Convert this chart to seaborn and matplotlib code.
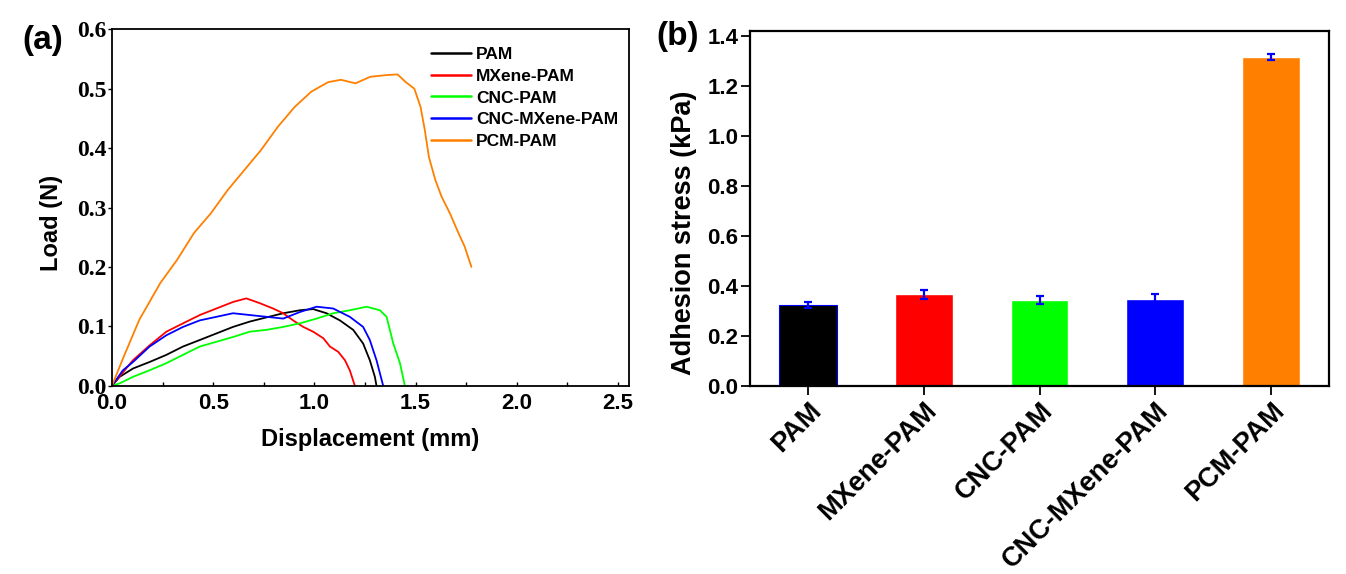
import matplotlib
matplotlib.use("Agg")
from matplotlib import pyplot as plt
from matplotlib import ticker
import numpy as np
import pandas as pd
import seaborn as sns

# (a) load-displacement curves
pam_x = [0.0, 0.038, 0.104, 0.186, 0.269, 0.351, 0.434, 0.516, 0.598, 0.681, 0.763,
         0.846, 0.928, 0.994, 1.06, 1.126, 1.192, 1.241, 1.274, 1.299, 1.307]
pam_y = [0.0, 0.015, 0.029, 0.040, 0.052, 0.066, 0.077, 0.088, 0.099, 0.108, 0.115,
         0.122, 0.127, 0.129, 0.122, 0.110, 0.094, 0.071, 0.043, 0.015, 0.0]

mxene_x = [0.0, 0.104, 0.186, 0.269, 0.351, 0.434, 0.516, 0.598, 0.664, 0.730, 0.796,
           0.846, 0.895, 0.945, 0.994, 1.044, 1.077, 1.118, 1.151, 1.175, 1.2]
mxene_y = [0.0, 0.043, 0.068, 0.091, 0.105, 0.119, 0.130, 0.141, 0.147, 0.139, 0.130,
           0.122, 0.110, 0.099, 0.091, 0.080, 0.066, 0.057, 0.043, 0.026, 0.0]

cnc_x = [0.0, 0.038, 0.104, 0.186, 0.269, 0.351, 0.434, 0.516, 0.598, 0.681, 0.763,
         0.846, 0.928, 1.011, 1.093, 1.175, 1.258, 1.324, 1.357, 1.39, 1.423, 1.447]
cnc_y = [0.0, 0.004, 0.015, 0.026, 0.038, 0.052, 0.066, 0.074, 0.082, 0.091, 0.094,
         0.099, 0.105, 0.113, 0.122, 0.127, 0.133, 0.127, 0.116, 0.071, 0.038, 0.0]

cm_x = [0.0, 0.054, 0.104, 0.186, 0.269, 0.351, 0.434, 0.516, 0.598, 0.681, 0.763,
        0.846, 0.928, 1.011, 1.093, 1.175, 1.241, 1.274, 1.307, 1.34]
cm_y = [0.0, 0.026, 0.040, 0.066, 0.085, 0.099, 0.110, 0.116, 0.122, 0.119, 0.116,
        0.113, 0.124, 0.133, 0.130, 0.116, 0.099, 0.077, 0.043, 0.0]

pcm_x = [0.0, 0.052, 0.135, 0.239, 0.322, 0.405, 0.488, 0.571, 0.654, 0.737, 0.820,
         0.902, 0.985, 1.068, 1.131, 1.203, 1.276, 1.359, 1.411, 1.452, 1.494, 1.525,
         1.546, 1.566, 1.598, 1.629, 1.670, 1.712, 1.743, 1.776]
pcm_y = [0.0, 0.044, 0.111, 0.173, 0.212, 0.257, 0.290, 0.329, 0.363, 0.397, 0.436,
         0.469, 0.495, 0.511, 0.515, 0.509, 0.520, 0.523, 0.524, 0.511, 0.500, 0.469,
         0.430, 0.385, 0.346, 0.318, 0.290, 0.257, 0.234, 0.200]

# (b) adhesion stress
samples = ["PAM", "MXene-PAM", "CNC-PAM", "CNC-MXene-PAM", "PCM-PAM"]
stress = [0.322, 0.367, 0.343, 0.347, 1.315]
stress_err = [0.012, 0.018, 0.016, 0.022, 0.012]

colors = ["#000000", "#FF0000", "#00FF00", "#0000FF", "#FF8000"]

sns.set_theme(style="white")
plt.rcParams["font.family"] = ["Liberation Sans", "DejaVu Sans"]
plt.rcParams["font.weight"] = "bold"
for key in ["text.color", "axes.labelcolor", "xtick.color", "ytick.color"]:
    plt.rcParams[key] = "black"

fig = plt.figure(figsize=(13.46, 5.74), dpi=100)
ax1 = fig.add_axes([0.0832, 0.328, 0.384, 0.621])
ax2 = fig.add_axes([0.5572, 0.328, 0.4302, 0.618])

curves = pd.concat([
    pd.DataFrame({"x": xs, "y": ys, "sample": name})
    for name, xs, ys in zip(samples, [pam_x, mxene_x, cnc_x, cm_x, pcm_x],
                            [pam_y, mxene_y, cnc_y, cm_y, pcm_y])
])

sns.lineplot(data=curves, x="x", y="y", hue="sample", hue_order=samples,
             palette=colors, sort=False, estimator=None, units="sample",
             linewidth=1.3, ax=ax1, legend=True)

ax1.set_xlim(0, 2.554)
ax1.set_ylim(0, 0.6)
ax1.set_xticks(np.arange(0, 2.51, 0.5))
ax1.xaxis.set_minor_locator(ticker.MultipleLocator(0.25))
ax1.xaxis.set_major_formatter(ticker.FormatStrFormatter("%.1f"))
ax1.set_yticks(np.arange(0, 0.61, 0.1))
ax1.yaxis.set_major_formatter(ticker.FormatStrFormatter("%.1f"))
ax1.tick_params(axis="x", which="both", direction="in", length=3, width=1,
                bottom=True, labelsize=16, pad=5)
ax1.tick_params(axis="y", direction="out", length=3, width=1, left=True, pad=1)
for lab in ax1.get_xticklabels():
    lab.set_fontweight("bold")
for lab in ax1.get_yticklabels():
    lab.set_family("Liberation Serif")
    lab.set_fontweight("bold")
    lab.set_fontsize(17)
ax1.set_xlabel("Displacement (mm)", fontsize=17, fontweight="bold", labelpad=10)
ax1.set_ylabel("Load (N)", fontsize=17, fontweight="bold")
ax1.yaxis.set_label_coords(-0.095, 0.456)
for sp in ax1.spines.values():
    sp.set_color("black")
    sp.set_linewidth(1.3)

leg = ax1.legend(loc="upper left", bbox_to_anchor=(0.6, 0.975), frameon=False,
                 fontsize=12.5, handlelength=2.3, labelspacing=0.38,
                 handletextpad=0.3, borderpad=0)
for line in leg.get_lines():
    line.set_linewidth(1.8)
for txt in leg.get_texts():
    txt.set_fontweight("bold")

bars = pd.DataFrame({"sample": samples, "stress": stress})
sns.barplot(data=bars, x="sample", y="stress", hue="sample", order=samples,
            palette=colors, width=0.5, saturation=1, legend=False, ax=ax2)
ax2.patches[0].set_edgecolor("#0000FF")
ax2.patches[0].set_linewidth(0.8)
ax2.errorbar(np.arange(len(samples)), stress, yerr=stress_err, fmt="none",
             ecolor="#0000FF", elinewidth=1.6, capsize=3, capthick=1.6)

ax2.set_xlim(-0.5, 4.5)
ax2.set_ylim(0, 1.42)
ax2.set_yticks(np.arange(0, 1.41, 0.2))
ax2.yaxis.set_major_formatter(ticker.FormatStrFormatter("%.1f"))
ax2.set_xticks(range(len(samples)))
ax2.set_xticklabels(samples, rotation=45, ha="right", rotation_mode="anchor",
                    fontweight="bold", fontsize=19.5)
ax2.tick_params(axis="both", direction="out", length=6.5, width=1.3,
                left=True, bottom=True, pad=2)
ax2.tick_params(axis="y", labelsize=16)
for lab in ax2.get_yticklabels():
    lab.set_fontweight("bold")
ax2.set_xlabel("")
ax2.set_ylabel("Adhesion stress (kPa)", fontsize=19.5, fontweight="bold")
ax2.yaxis.set_label_coords(-0.092, 0.43)
for sp in ax2.spines.values():
    sp.set_color("black")
    sp.set_linewidth(1.6)

fig.text(22 / 1346, 1 - 41 / 574, "(a)", fontsize=24, fontweight="bold", va="center")
fig.text(656 / 1346, 1 - 36 / 574, "(b)", fontsize=24, fontweight="bold", va="center")

fig.savefig("out.png", dpi=100)
